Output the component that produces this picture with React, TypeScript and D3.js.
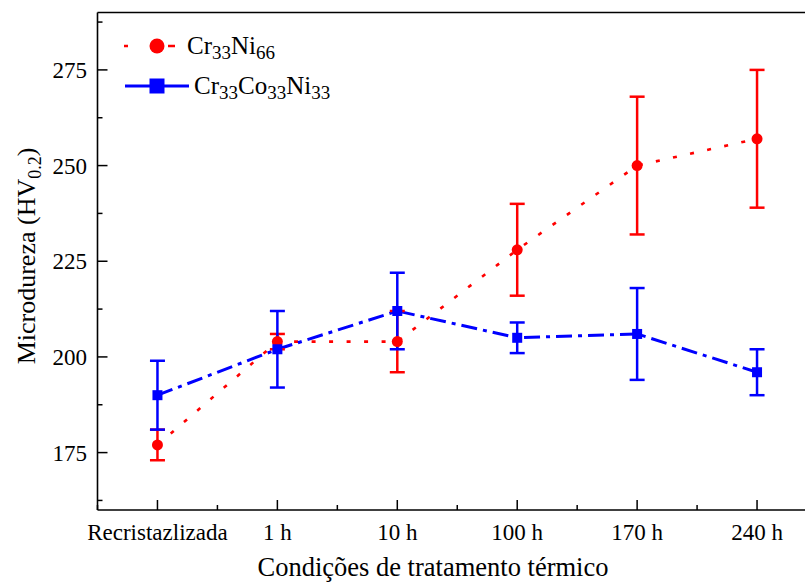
import React from "react";
import * as d3 from "d3";

const categories = ["Recristazlizada", "1 h", "10 h", "100 h", "170 h", "240 h"];
const crniValues = [177, 204, 204, 228, 250, 257];
const crniLow = [173, 202, 196, 216, 232, 239];
const crniHigh = [181, 206, 212, 240, 268, 275];
const crconiValues = [190, 202, 212, 205, 206, 196];
const crconiLow = [181, 192, 202, 201, 194, 190];
const crconiHigh = [199, 212, 222, 209, 218, 202];
const yMajorTicks = [175, 200, 225, 250, 275];
const yMinorTicks = [162.5, 187.5, 212.5, 237.5, 262.5, 287.5];

const W = 805;
const H = 584;
const left = 97.5;
const top = 12.5;
const bottom = 510;
const right = 817;
const FONT = "'Liberation Serif', 'Times New Roman', serif";
const RED = "#ff0000";
const BLUE = "#0000ff";

export default function App() {
  const x = d3.scalePoint<string>().domain(categories).range([left, right]).padding(0.5);
  const y = d3.scaleLinear().domain([160, 290]).range([bottom, top]);
  const step = x.step();

  const redLine = d3
    .line<number>()
    .x((_, i) => x(categories[i])!)
    .y((d) => y(d));
  const blueLine = d3
    .line<number>()
    .x((_, i) => x(categories[i])!)
    .y((d) => y(d));

  const minorX = categories.map((c) => x(c)! + step / 2).concat([x(categories[0])! - step / 2]);

  const errBars = (vals: number[], lo: number[], hi: number[], color: string) =>
    vals.map((_, i) => {
      const cx = x(categories[i])!;
      return (
        <g key={i} stroke={color} strokeWidth={2.5}>
          <line x1={cx} x2={cx} y1={y(lo[i])} y2={y(hi[i])} />
          <line x1={cx - 7.5} x2={cx + 7.5} y1={y(lo[i])} y2={y(lo[i])} />
          <line x1={cx - 7.5} x2={cx + 7.5} y1={y(hi[i])} y2={y(hi[i])} />
        </g>
      );
    });

  return (
    <svg
      width={W}
      height={H}
      style={{ position: "absolute", left: 0, top: 0, background: "#fff" }}
      fontFamily={FONT}
    >
      <rect x={0} y={0} width={W} height={H} fill="#fff" />
      {/* axes frame */}
      <g stroke="#000" strokeWidth={1.6} fill="none">
        <line x1={left} x2={left} y1={top} y2={bottom} />
        <line x1={left} x2={W + 5} y1={bottom} y2={bottom} />
        <line x1={left} x2={W + 5} y1={top} y2={top} />
      </g>
      {/* ticks */}
      <g stroke="#000" strokeWidth={1.5}>
        {yMajorTicks.map((t) => (
          <line key={t} x1={left} x2={left + 10} y1={y(t)} y2={y(t)} />
        ))}
        {yMinorTicks.map((t) => (
          <line key={t} x1={left} x2={left + 5} y1={y(t)} y2={y(t)} />
        ))}
        {categories.map((c) => (
          <line key={c} x1={x(c)!} x2={x(c)!} y1={bottom} y2={bottom - 10} />
        ))}
        {minorX.map((m, i) => (
          <line key={i} x1={m} x2={m} y1={bottom} y2={bottom - 5} />
        ))}
      </g>
      <g fontSize={23} fill="#000">
        {yMajorTicks.map((t) => (
          <text key={t} x={87} y={y(t)} dy="0.35em" textAnchor="end">
            {t}
          </text>
        ))}
        {categories.map((c) => (
          <text key={c} x={x(c)!} y={540} textAnchor="middle">
            {c}
          </text>
        ))}
      </g>
      <text x={433} y={576} fontSize={26.5} textAnchor="middle" fill="#000">
        Condições de tratamento térmico
      </text>
      <text
        transform={`translate(35, 256) rotate(-90)`}
        fontSize={26}
        textAnchor="middle"
        fill="#000"
      >
        Microdureza (HV
        <tspan fontSize={18} dy={6}>
          0.2
        </tspan>
        <tspan dy={-6}>)</tspan>
      </text>

      {/* series lines */}
      <path d={redLine(crniValues)!} fill="none" stroke={RED} strokeWidth={2.6} strokeDasharray="4,13.5" />
      <path d={blueLine(crconiValues)!} fill="none" stroke={BLUE} strokeWidth={3} strokeDasharray="16,6,4,6" />

      {errBars(crniValues, crniLow, crniHigh, RED)}
      {errBars(crconiValues, crconiLow, crconiHigh, BLUE)}

      {crniValues.map((v, i) => (
        <circle key={i} cx={x(categories[i])!} cy={y(v)} r={5.5} fill={RED} />
      ))}
      {crconiValues.map((v, i) => (
        <rect key={i} x={x(categories[i])! - 5} y={y(v) - 5} width={10} height={10} fill={BLUE} />
      ))}

      {/* legend */}
      <g>
        <line x1={124} x2={175} y1={46} y2={46} stroke={RED} strokeWidth={2.6} strokeDasharray="4,40,7" />
        <circle cx={157} cy={46} r={7.5} fill={RED} />
        <text x={187} y={54} fontSize={25} fill="#000">
          Cr<tspan fontSize={19} dy={5}>33</tspan>
          <tspan dy={-5}>Ni</tspan>
          <tspan fontSize={19} dy={5}>66</tspan>
        </text>
        <line x1={125} x2={189} y1={86} y2={86} stroke={BLUE} strokeWidth={3.2} />
        <rect x={149.5} y={78.5} width={15} height={15} fill={BLUE} />
        <text x={194} y={94} fontSize={25} fill="#000">
          Cr<tspan fontSize={19} dy={5}>33</tspan>
          <tspan dy={-5}>Co</tspan>
          <tspan fontSize={19} dy={5}>33</tspan>
          <tspan dy={-5}>Ni</tspan>
          <tspan fontSize={19} dy={5}>33</tspan>
        </text>
      </g>
    </svg>
  );
}
